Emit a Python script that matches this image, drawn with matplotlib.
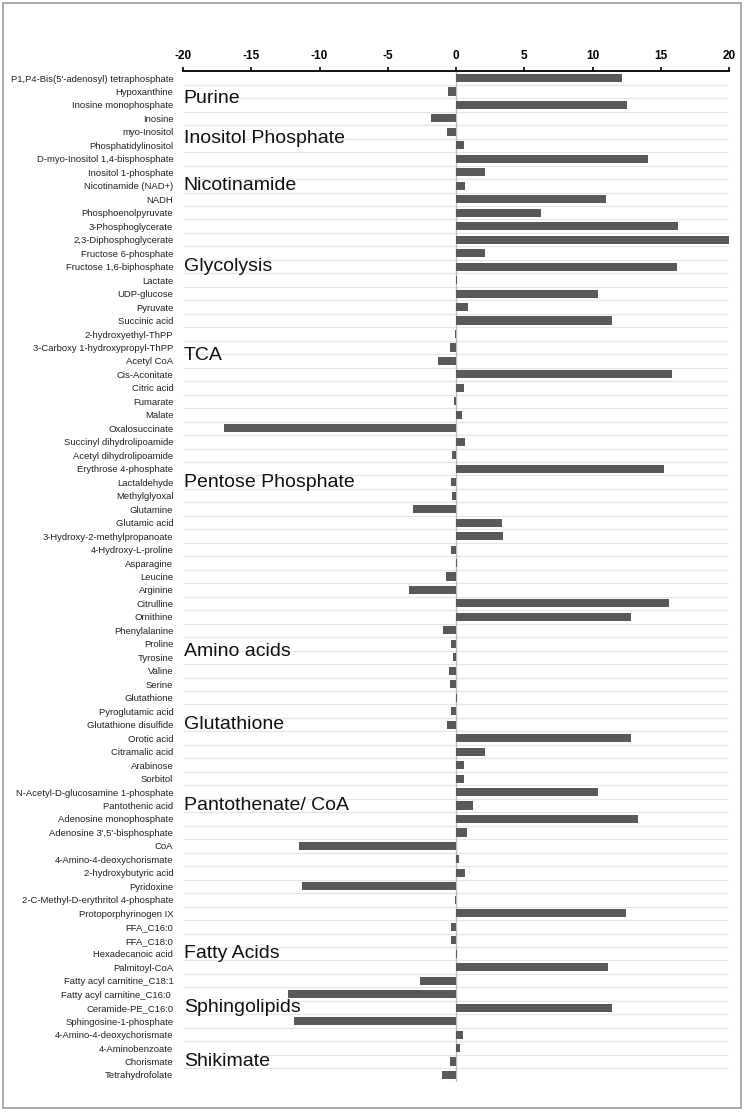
import numpy as np
import matplotlib
matplotlib.use("Agg")
from matplotlib import pyplot as plt
from matplotlib.patches import Rectangle

plt.rcParams['font.family'] = ['Liberation Sans', 'DejaVu Sans']

metabolites = [
    "P1,P4-Bis(5'-adenosyl) tetraphosphate", "Hypoxanthine", "Inosine monophosphate", "Inosine",
    "myo-Inositol", "Phosphatidylinositol", "D-myo-Inositol 1,4-bisphosphate", "Inositol 1-phosphate",
    "Nicotinamide (NAD+)", "NADH", "Phosphoenolpyruvate", "3-Phosphoglycerate",
    "2,3-Diphosphoglycerate", "Fructose 6-phosphate", "Fructose 1,6-biphosphate", "Lactate",
    "UDP-glucose", "Pyruvate", "Succinic acid", "2-hydroxyethyl-ThPP",
    "3-Carboxy 1-hydroxypropyl-ThPP", "Acetyl CoA", "Cis-Aconitate", "Citric acid",
    "Fumarate", "Malate", "Oxalosuccinate", "Succinyl dihydrolipoamide",
    "Acetyl dihydrolipoamide", "Erythrose 4-phosphate", "Lactaldehyde", "Methylglyoxal",
    "Glutamine", "Glutamic acid", "3-Hydroxy-2-methylpropanoate", "4-Hydroxy-L-proline",
    "Asparagine", "Leucine", "Arginine", "Citrulline",
    "Ornithine", "Phenylalanine", "Proline", "Tyrosine",
    "Valine", "Serine", "Glutathione", "Pyroglutamic acid",
    "Glutathione disulfide", "Orotic acid", "Citramalic acid", "Arabinose",
    "Sorbitol", "N-Acetyl-D-glucosamine 1-phosphate", "Pantothenic acid", "Adenosine monophosphate",
    "Adenosine 3',5'-bisphosphate", "CoA", "4-Amino-4-deoxychorismate", "2-hydroxybutyric acid",
    "Pyridoxine", "2-C-Methyl-D-erythritol 4-phosphate", "Protoporphyrinogen IX", "FFA_C16:0",
    "FFA_C18:0", "Hexadecanoic acid", "Palmitoyl-CoA", "Fatty acyl carnitine_C18:1",
    "Fatty acyl carnitine_C16:0 ", "Ceramide-PE_C16:0", "Sphingosine-1-phosphate", "4-Amino-4-deoxychorismate",
    "4-Aminobenzoate", "Chorismate", "Tetrahydrofolate",
]

fold_change = [
    12.16, -0.59, 12.53, -1.83,
    -0.67, 0.56, 14.04, 2.15,
    0.63, 10.99, 6.23, 16.26,
    20.0, 2.15, 16.21, 0.07,
    10.43, 0.91, 11.41, -0.08,
    -0.43, -1.32, 15.80, 0.59,
    -0.13, 0.43, -16.99, 0.66,
    -0.31, 15.26, -0.33, -0.28,
    -3.16, 3.39, 3.46, -0.38,
    0.10, -0.74, -3.44, 15.62,
    12.79, -0.94, -0.36, -0.23,
    -0.48, -0.43, 0.07, -0.39,
    -0.63, 12.84, 2.10, 0.59,
    0.56, 10.43, 1.25, 13.31,
    0.83, -11.50, 0.24, 0.68,
    -11.26, -0.09, 12.43, -0.40,
    -0.35, 0.05, 11.11, -2.66,
    -12.28, 11.41, -11.87, 0.50,
    0.30, -0.44, -1.03,
]

# pathway label and the row (0-based, may be fractional) it sits on
pathways = ["Purine", "Inositol Phosphate", "Nicotinamide", "Glycolysis", "TCA",
            "Pentose Phosphate", "Amino acids", "Glutathione", "Pantothenate/ CoA",
            "Fatty Acids", "Sphingolipids", "Shikimate"]
pathway_rows = [1.5, 4.5, 8, 14, 20.6, 30, 42.6, 48, 54, 65, 69, 73]

xticks = [-20, -15, -10, -5, 0, 5, 10, 15, 20]

fig = plt.figure(figsize=(7.46, 11.14), dpi=100)
fig.patches.append(Rectangle((3/746, 6/1114), 738/746, 1105/1114, transform=fig.transFigure,
                             fill=False, edgecolor='#9a9a9a', linewidth=1.2))

ax = fig.add_axes([183/746, 1 - 1081.7/1114, 546/746, 1010.4/1114])
n = len(metabolites)
y = np.arange(n)

for i in range(n + 1):
    ax.axhline(i - 0.5, color='#e6e6e6', linewidth=0.9, zorder=0)
ax.axvline(0, color='#bdbdbd', linewidth=1.0, zorder=1)
ax.barh(y, fold_change, height=0.6, color='#595959', zorder=2)

ax.set_xlim(-20, 20)
ax.set_ylim(n - 0.5, -0.5)
ax.xaxis.tick_top()
ax.set_xticks(xticks)
ax.set_xticklabels([str(t) for t in xticks], fontsize=8.5, fontweight='bold')
ax.tick_params(axis='x', direction='out', length=3, width=1.2, pad=4, colors='black')
ax.set_yticks(y)
ax.set_yticklabels(metabolites, fontsize=6.8, color='#222222')
ax.tick_params(axis='y', length=0, pad=7)

for s in ['bottom', 'left', 'right']:
    ax.spines[s].set_visible(False)
ax.spines['top'].set_linewidth(1.3)

for label, row in zip(pathways, pathway_rows):
    ax.text(-19.95, row, label, fontsize=14, va='center', ha='left', color='#111111', zorder=3)

fig.savefig('out.png', dpi=100)
